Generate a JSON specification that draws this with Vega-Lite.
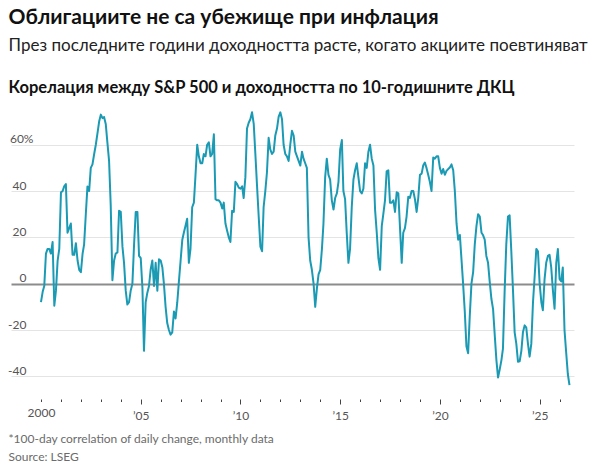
{
  "$schema": "https://vega.github.io/schema/vega-lite/v6.json",
  "background": "white",
  "padding": {"left": 7, "right": 16, "top": 6, "bottom": 2},
  "title": {
    "text": "Облигациите не са убежище при инфлация",
    "subtitle": "През последните години доходността расте, когато акциите поевтиняват",
    "anchor": "start",
    "dx": 1,
    "font": "Lato",
    "fontSize": 21,
    "fontWeight": "bold",
    "color": "#111111",
    "subtitleFont": "Lato",
    "subtitleFontSize": 17,
    "subtitleColor": "#222222",
    "subtitlePadding": 10,
    "offset": 26
  },
  "config": {
    "view": {"stroke": null},
    "concat": {"spacing": 0}
  },
  "vconcat": [
    {
      "width": 563,
      "height": 286,
      "title": {
        "text": "Корелация между S&P 500 и доходността по 10-годишните ДКЦ",
        "anchor": "start",
        "dx": 1,
        "font": "Lato",
        "fontSize": 16.5,
        "fontWeight": "bold",
        "color": "#111111",
        "offset": 14
      },
      "data": {
        "values": [
          {"date": "2000-01", "corr": -8}, {"date": "2000-02", "corr": -3.5}, {"date": "2000-03", "corr": -1}, {"date": "2000-04", "corr": 13},
          {"date": "2000-05", "corr": 15}, {"date": "2000-06", "corr": 15}, {"date": "2000-07", "corr": 13}, {"date": "2000-08", "corr": 18},
          {"date": "2000-09", "corr": -9.5}, {"date": "2000-10", "corr": -3}, {"date": "2000-11", "corr": 10}, {"date": "2000-12", "corr": 15},
          {"date": "2001-01", "corr": 39.5}, {"date": "2001-02", "corr": 40}, {"date": "2001-03", "corr": 42}, {"date": "2001-04", "corr": 43},
          {"date": "2001-05", "corr": 22}, {"date": "2001-06", "corr": 24}, {"date": "2001-07", "corr": 26}, {"date": "2001-08", "corr": 12.5},
          {"date": "2001-09", "corr": 12.5}, {"date": "2001-10", "corr": 17.5}, {"date": "2001-11", "corr": 10}, {"date": "2001-12", "corr": 6},
          {"date": "2002-01", "corr": 5}, {"date": "2002-02", "corr": 13}, {"date": "2002-03", "corr": 17}, {"date": "2002-04", "corr": 30},
          {"date": "2002-05", "corr": 42}, {"date": "2002-06", "corr": 40}, {"date": "2002-07", "corr": 50}, {"date": "2002-08", "corr": 51.5},
          {"date": "2002-09", "corr": 56}, {"date": "2002-10", "corr": 60}, {"date": "2002-11", "corr": 65}, {"date": "2002-12", "corr": 70},
          {"date": "2003-01", "corr": 73}, {"date": "2003-02", "corr": 71.5}, {"date": "2003-03", "corr": 72}, {"date": "2003-04", "corr": 69},
          {"date": "2003-05", "corr": 61}, {"date": "2003-06", "corr": 53}, {"date": "2003-07", "corr": 34}, {"date": "2003-08", "corr": 1.5},
          {"date": "2003-09", "corr": 10}, {"date": "2003-10", "corr": 13}, {"date": "2003-11", "corr": 13.5}, {"date": "2003-12", "corr": 31.5},
          {"date": "2004-01", "corr": 31}, {"date": "2004-02", "corr": 16}, {"date": "2004-03", "corr": 9}, {"date": "2004-04", "corr": -3},
          {"date": "2004-05", "corr": -9}, {"date": "2004-06", "corr": -8}, {"date": "2004-07", "corr": -3}, {"date": "2004-08", "corr": 0},
          {"date": "2004-09", "corr": 17}, {"date": "2004-10", "corr": 31}, {"date": "2004-11", "corr": 31}, {"date": "2004-12", "corr": 12},
          {"date": "2005-01", "corr": 11}, {"date": "2005-02", "corr": -2}, {"date": "2005-03", "corr": -29}, {"date": "2005-04", "corr": -8},
          {"date": "2005-05", "corr": -4}, {"date": "2005-06", "corr": -1}, {"date": "2005-07", "corr": 6}, {"date": "2005-08", "corr": 10},
          {"date": "2005-09", "corr": -1}, {"date": "2005-10", "corr": 9}, {"date": "2005-11", "corr": -3}, {"date": "2005-12", "corr": 10.5},
          {"date": "2006-01", "corr": 10}, {"date": "2006-02", "corr": 7}, {"date": "2006-03", "corr": 0}, {"date": "2006-04", "corr": -10},
          {"date": "2006-05", "corr": -17}, {"date": "2006-06", "corr": -20}, {"date": "2006-07", "corr": -22}, {"date": "2006-08", "corr": -21},
          {"date": "2006-09", "corr": -12}, {"date": "2006-10", "corr": -15}, {"date": "2006-11", "corr": -8}, {"date": "2006-12", "corr": 1},
          {"date": "2007-01", "corr": 10}, {"date": "2007-02", "corr": 19}, {"date": "2007-03", "corr": 22}, {"date": "2007-04", "corr": 25},
          {"date": "2007-05", "corr": 28}, {"date": "2007-06", "corr": 9}, {"date": "2007-07", "corr": 15}, {"date": "2007-08", "corr": 33},
          {"date": "2007-09", "corr": 35}, {"date": "2007-10", "corr": 47}, {"date": "2007-11", "corr": 60}, {"date": "2007-12", "corr": 55},
          {"date": "2008-01", "corr": 52}, {"date": "2008-02", "corr": 52}, {"date": "2008-03", "corr": 56}, {"date": "2008-04", "corr": 55},
          {"date": "2008-05", "corr": 60}, {"date": "2008-06", "corr": 61}, {"date": "2008-07", "corr": 55}, {"date": "2008-08", "corr": 56},
          {"date": "2008-09", "corr": 64.5}, {"date": "2008-10", "corr": 36.5}, {"date": "2008-11", "corr": 36}, {"date": "2008-12", "corr": 36},
          {"date": "2009-01", "corr": 35}, {"date": "2009-02", "corr": 32.5}, {"date": "2009-03", "corr": 35}, {"date": "2009-04", "corr": 26},
          {"date": "2009-05", "corr": 23}, {"date": "2009-06", "corr": 20}, {"date": "2009-07", "corr": 18}, {"date": "2009-08", "corr": 31.5},
          {"date": "2009-09", "corr": 31}, {"date": "2009-10", "corr": 44}, {"date": "2009-11", "corr": 43}, {"date": "2009-12", "corr": 41.5},
          {"date": "2010-01", "corr": 41}, {"date": "2010-02", "corr": 42}, {"date": "2010-03", "corr": 37}, {"date": "2010-04", "corr": 46},
          {"date": "2010-05", "corr": 67}, {"date": "2010-06", "corr": 69.5}, {"date": "2010-07", "corr": 71}, {"date": "2010-08", "corr": 74},
          {"date": "2010-09", "corr": 69}, {"date": "2010-10", "corr": 56}, {"date": "2010-11", "corr": 42}, {"date": "2010-12", "corr": 29},
          {"date": "2011-01", "corr": 16}, {"date": "2011-02", "corr": 14}, {"date": "2011-03", "corr": 33}, {"date": "2011-04", "corr": 40},
          {"date": "2011-05", "corr": 48}, {"date": "2011-06", "corr": 63}, {"date": "2011-07", "corr": 58}, {"date": "2011-08", "corr": 56},
          {"date": "2011-09", "corr": 57}, {"date": "2011-10", "corr": 64}, {"date": "2011-11", "corr": 67}, {"date": "2011-12", "corr": 72},
          {"date": "2012-01", "corr": 74}, {"date": "2012-02", "corr": 71}, {"date": "2012-03", "corr": 60}, {"date": "2012-04", "corr": 56},
          {"date": "2012-05", "corr": 55}, {"date": "2012-06", "corr": 53}, {"date": "2012-07", "corr": 60}, {"date": "2012-08", "corr": 66},
          {"date": "2012-09", "corr": 64}, {"date": "2012-10", "corr": 57}, {"date": "2012-11", "corr": 55}, {"date": "2012-12", "corr": 53},
          {"date": "2013-01", "corr": 51}, {"date": "2013-02", "corr": 57}, {"date": "2013-03", "corr": 54}, {"date": "2013-04", "corr": 52},
          {"date": "2013-05", "corr": 50}, {"date": "2013-06", "corr": 20}, {"date": "2013-07", "corr": 10}, {"date": "2013-08", "corr": 6},
          {"date": "2013-09", "corr": 0}, {"date": "2013-10", "corr": -10}, {"date": "2013-11", "corr": -2}, {"date": "2013-12", "corr": 4},
          {"date": "2014-01", "corr": 6}, {"date": "2014-02", "corr": 15}, {"date": "2014-03", "corr": 26}, {"date": "2014-04", "corr": 46},
          {"date": "2014-05", "corr": 54}, {"date": "2014-06", "corr": 47}, {"date": "2014-07", "corr": 45}, {"date": "2014-08", "corr": 36},
          {"date": "2014-09", "corr": 32}, {"date": "2014-10", "corr": 37}, {"date": "2014-11", "corr": 39}, {"date": "2014-12", "corr": 44},
          {"date": "2015-01", "corr": 58}, {"date": "2015-02", "corr": 62}, {"date": "2015-03", "corr": 40}, {"date": "2015-04", "corr": 36.5},
          {"date": "2015-05", "corr": 22}, {"date": "2015-06", "corr": 9}, {"date": "2015-07", "corr": 15}, {"date": "2015-08", "corr": 33},
          {"date": "2015-09", "corr": 45}, {"date": "2015-10", "corr": 49}, {"date": "2015-11", "corr": 52}, {"date": "2015-12", "corr": 46},
          {"date": "2016-01", "corr": 40}, {"date": "2016-02", "corr": 39}, {"date": "2016-03", "corr": 41}, {"date": "2016-04", "corr": 52},
          {"date": "2016-05", "corr": 50}, {"date": "2016-06", "corr": 57}, {"date": "2016-07", "corr": 60}, {"date": "2016-08", "corr": 54},
          {"date": "2016-09", "corr": 51}, {"date": "2016-10", "corr": 32}, {"date": "2016-11", "corr": 22}, {"date": "2016-12", "corr": 11},
          {"date": "2017-01", "corr": 6}, {"date": "2017-02", "corr": 25}, {"date": "2017-03", "corr": 30}, {"date": "2017-04", "corr": 36},
          {"date": "2017-05", "corr": 48.5}, {"date": "2017-06", "corr": 49}, {"date": "2017-07", "corr": 35}, {"date": "2017-08", "corr": 35},
          {"date": "2017-09", "corr": 36}, {"date": "2017-10", "corr": 31}, {"date": "2017-11", "corr": 39.5}, {"date": "2017-12", "corr": 39},
          {"date": "2018-01", "corr": 24}, {"date": "2018-02", "corr": 9}, {"date": "2018-03", "corr": 22}, {"date": "2018-04", "corr": 24},
          {"date": "2018-05", "corr": 29}, {"date": "2018-06", "corr": 37.5}, {"date": "2018-07", "corr": 37}, {"date": "2018-08", "corr": 40},
          {"date": "2018-09", "corr": 40}, {"date": "2018-10", "corr": 36.5}, {"date": "2018-11", "corr": 31}, {"date": "2018-12", "corr": 37},
          {"date": "2019-01", "corr": 47}, {"date": "2019-02", "corr": 47.5}, {"date": "2019-03", "corr": 51}, {"date": "2019-04", "corr": 52.3},
          {"date": "2019-05", "corr": 50}, {"date": "2019-06", "corr": 47}, {"date": "2019-07", "corr": 44}, {"date": "2019-08", "corr": 40},
          {"date": "2019-09", "corr": 54.5}, {"date": "2019-10", "corr": 54}, {"date": "2019-11", "corr": 55}, {"date": "2019-12", "corr": 55},
          {"date": "2020-01", "corr": 50}, {"date": "2020-02", "corr": 47.5}, {"date": "2020-03", "corr": 49.5}, {"date": "2020-04", "corr": 47},
          {"date": "2020-05", "corr": 48.7}, {"date": "2020-06", "corr": 49.5}, {"date": "2020-07", "corr": 50.2}, {"date": "2020-08", "corr": 51.5},
          {"date": "2020-09", "corr": 49}, {"date": "2020-10", "corr": 40}, {"date": "2020-11", "corr": 26}, {"date": "2020-12", "corr": 19},
          {"date": "2021-01", "corr": 21}, {"date": "2021-02", "corr": 10}, {"date": "2021-03", "corr": 0}, {"date": "2021-04", "corr": -12},
          {"date": "2021-05", "corr": -27}, {"date": "2021-06", "corr": -30}, {"date": "2021-07", "corr": -14}, {"date": "2021-08", "corr": 0},
          {"date": "2021-09", "corr": 5}, {"date": "2021-10", "corr": 17}, {"date": "2021-11", "corr": 25}, {"date": "2021-12", "corr": 30},
          {"date": "2022-01", "corr": 29}, {"date": "2022-02", "corr": 22}, {"date": "2022-03", "corr": 21}, {"date": "2022-04", "corr": 19},
          {"date": "2022-05", "corr": 12}, {"date": "2022-06", "corr": 9}, {"date": "2022-07", "corr": 1}, {"date": "2022-08", "corr": -6.5},
          {"date": "2022-09", "corr": -11}, {"date": "2022-10", "corr": -22}, {"date": "2022-11", "corr": -33}, {"date": "2022-12", "corr": -40.5},
          {"date": "2023-01", "corr": -37}, {"date": "2023-02", "corr": -33}, {"date": "2023-03", "corr": -28}, {"date": "2023-04", "corr": -3},
          {"date": "2023-05", "corr": 17}, {"date": "2023-06", "corr": 29}, {"date": "2023-07", "corr": 29.5}, {"date": "2023-08", "corr": 14},
          {"date": "2023-09", "corr": -3}, {"date": "2023-10", "corr": -21}, {"date": "2023-11", "corr": -26}, {"date": "2023-12", "corr": -33.7},
          {"date": "2024-01", "corr": -33.5}, {"date": "2024-02", "corr": -29}, {"date": "2024-03", "corr": -21}, {"date": "2024-04", "corr": -18},
          {"date": "2024-05", "corr": -19}, {"date": "2024-06", "corr": -26}, {"date": "2024-07", "corr": -31.5}, {"date": "2024-08", "corr": -26},
          {"date": "2024-09", "corr": -8}, {"date": "2024-10", "corr": 3}, {"date": "2024-11", "corr": 15}, {"date": "2024-12", "corr": 14},
          {"date": "2025-01", "corr": 0}, {"date": "2025-02", "corr": -8}, {"date": "2025-03", "corr": -11.5}, {"date": "2025-04", "corr": 2},
          {"date": "2025-05", "corr": 9}, {"date": "2025-06", "corr": 12}, {"date": "2025-07", "corr": 12.5}, {"date": "2025-08", "corr": 7},
          {"date": "2025-09", "corr": -3}, {"date": "2025-10", "corr": -10.8}, {"date": "2025-11", "corr": 9}, {"date": "2025-12", "corr": 15},
          {"date": "2026-01", "corr": 2}, {"date": "2026-02", "corr": 1}, {"date": "2026-03", "corr": 7}, {"date": "2026-04", "corr": -20},
          {"date": "2026-05", "corr": -29.5}, {"date": "2026-06", "corr": -39}, {"date": "2026-07", "corr": -43.8}
        ]
      },
      "mark": {"type": "line", "color": "#1b9ab4", "strokeWidth": 2, "strokeJoin": "round"},
      "encoding": {
        "x": {
          "field": "date",
          "type": "temporal",
          "scale": {
            "type": "utc",
            "domain": [
              {"year": 1998, "month": 7, "date": 1, "utc": true},
              {"year": 2026, "month": 9, "date": 22, "utc": true}
            ]
          },
          "axis": {
            "values": [
              {"year": 2000, "utc": true}, {"year": 2001, "utc": true}, {"year": 2002, "utc": true},
              {"year": 2003, "utc": true}, {"year": 2004, "utc": true}, {"year": 2005, "utc": true},
              {"year": 2006, "utc": true}, {"year": 2007, "utc": true}, {"year": 2008, "utc": true},
              {"year": 2009, "utc": true}, {"year": 2010, "utc": true}, {"year": 2011, "utc": true},
              {"year": 2012, "utc": true}, {"year": 2013, "utc": true}, {"year": 2014, "utc": true},
              {"year": 2015, "utc": true}, {"year": 2016, "utc": true}, {"year": 2017, "utc": true},
              {"year": 2018, "utc": true}, {"year": 2019, "utc": true}, {"year": 2020, "utc": true},
              {"year": 2021, "utc": true}, {"year": 2022, "utc": true}, {"year": 2023, "utc": true},
              {"year": 2024, "utc": true}, {"year": 2025, "utc": true}, {"year": 2026, "utc": true}
            ],
            "labelExpr": "utcyear(datum.value) % 5 != 0 ? '' : (utcyear(datum.value) == 2000 ? '2000' : '’' + slice(toString(utcyear(datum.value)), 2))",
            "domain": false,
            "grid": false,
            "offset": 3,
            "tickColor": "#444444",
            "tickWidth": 1,
            "tickSize": {"condition": {"test": "utcyear(datum.value) % 5 == 0 && utcyear(datum.value) > 2000", "value": 5}, "value": 2.5},
            "labelPadding": 6,
            "labelFont": "Lato",
            "labelFontSize": 12,
            "labelColor": "#555555",
            "labelFlush": false,
            "labelOverlap": false,
            "title": ["*100-day correlation of daily change, monthly data", "Source: LSEG"],
            "titleAnchor": "start",
            "titleAlign": "left",
            "titleX": -3,
            "titleFont": "Lato",
            "titleFontSize": 12,
            "titleFontWeight": "normal",
            "titleColor": "#6b6b6b",
            "titleLineHeight": 18,
            "titlePadding": 12
          }
        },
        "y": {
          "field": "corr",
          "type": "quantitative",
          "scale": {"domain": [-48.5, 75], "nice": false, "zero": false},
          "axis": {
            "values": [-40, -20, 0, 20, 40, 60],
            "labelExpr": "datum.value == 60 ? '60%' : toString(datum.value)",
            "domain": false,
            "ticks": false,
            "grid": true,
            "gridColor": {"condition": {"test": "datum.value == 0", "value": "#8c8c8c"}, "value": "#e4e4e4"},
            "gridWidth": {"condition": {"test": "datum.value == 0", "value": 2}, "value": 1},
            "labelAlign": "right",
            "labelBaseline": "alphabetic",
            "labelOffset": -2,
            "labelPadding": {"condition": {"test": "datum.value == 60", "value": -22}, "value": -15},
            "labelFont": "Lato",
            "labelFontSize": 12,
            "labelColor": "#555555",
            "minExtent": 0,
            "maxExtent": 0,
            "title": null
          }
        }
      }
    }
  ]
}
